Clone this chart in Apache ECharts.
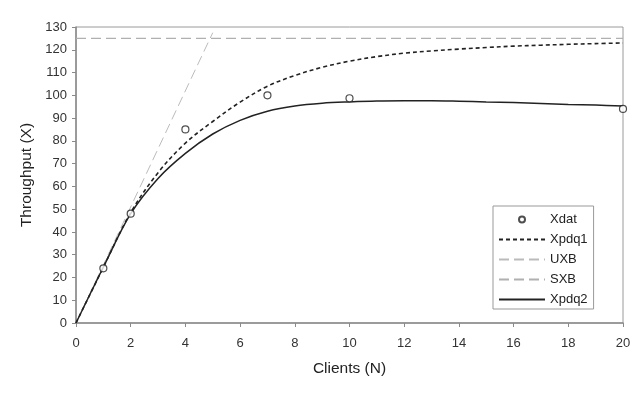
<!DOCTYPE html>
<html>
<head>
<meta charset="utf-8">
<script src="https://cdn.jsdelivr.net/npm/echarts@6/dist/echarts.min.js"></script>
<style>
html,body{margin:0;padding:0;background:#fff;}
#chart{width:640px;height:397px;}
</style>
</head>
<body>
<div id="chart"></div>
<script>
// Measured data
const xdatN = [1, 2, 4, 7, 10, 20];
const xdatX = [24, 48, 85, 100, 98.7, 94];

const clientsN = [0,1,2,3,4,5,6,7,8,9,10,11,12,13,14,15,16,17,18,19,20];
const xpdq1 = [0,24.5,48.5,66,79,88.5,97,104,108.7,112.3,115,117,118.5,119.5,120.3,121,121.6,122,122.4,122.7,123];
const xpdq2 = [0,24.5,48,63.5,74.5,83,89,93,95.3,96.5,97.1,97.5,97.6,97.6,97.4,97.1,96.8,96.4,96,95.7,95.3];

const uxbN = [0, 5];
const uxbX = [0, 127.5];
const sxbN = [0, 20];
const sxbX = [125, 125];

const xTicks = [0,2,4,6,8,10,12,14,16,18,20];
const yTicks = [0,10,20,30,40,50,60,70,80,90,100,110,120,130];

const pairs = (a, b) => a.map((v, i) => [v, b[i]]);
const FONT = 'Liberation Sans';
const hideDot = {opacity: 0};

const chart = echarts.init(document.getElementById('chart'), null, {renderer: 'canvas'});
chart.setOption({
  animation: false,
  backgroundColor: '#fff',
  textStyle: {fontFamily: FONT},
  grid: {left: 76, right: 17, top: 27, bottom: 74, show: true, borderColor: '#9a9a9a', borderWidth: 1, backgroundColor: 'transparent'},
  xAxis: {
    type: 'value', min: xTicks[0], max: xTicks[xTicks.length-1], interval: 2,
    name: 'Clients (N)', nameLocation: 'middle', nameGap: 38,
    nameTextStyle: {fontSize: 15.5, color: '#222', fontFamily: FONT},
    axisLine: {show: true, onZero: false, lineStyle: {color: '#8a8a8a', width: 1.5}},
    axisTick: {show: true, inside: false, length: 4, lineStyle: {color: '#8a8a8a'}},
    axisLabel: {fontSize: 13, color: '#333', margin: 14, fontFamily: FONT},
    splitLine: {show: false}
  },
  yAxis: {
    type: 'value', min: yTicks[0], max: yTicks[yTicks.length-1], interval: 10,
    name: 'Throughput (X)', nameLocation: 'middle', nameGap: 38,
    nameTextStyle: {fontSize: 15.5, color: '#222', fontFamily: FONT},
    axisLine: {show: true, onZero: false, lineStyle: {color: '#8a8a8a', width: 1.5}},
    axisTick: {show: true, inside: false, length: 4, lineStyle: {color: '#8a8a8a'}},
    axisLabel: {fontSize: 13, color: '#333', margin: 9, fontFamily: FONT},
    splitLine: {show: false}
  },
  legend: {
    orient: 'vertical', left: 493, top: 206,
    padding: [7, 6, 3, 5],
    itemWidth: 46, itemHeight: 6, itemGap: 7,
    borderColor: '#999', borderWidth: 1, backgroundColor: '#fff',
    textStyle: {fontSize: 13, color: '#222', fontFamily: FONT},
    data: [
      {name: 'Xdat'},
      {name: 'Xpdq1', itemStyle: hideDot},
      {name: 'UXB', itemStyle: hideDot},
      {name: 'SXB', itemStyle: hideDot},
      {name: 'Xpdq2', itemStyle: hideDot}
    ]
  },
  series: [
    {
      name: 'UXB', type: 'line', data: pairs(uxbN, uxbX), symbol: 'none',
      lineStyle: {color: '#bbbbbb', width: 1, type: [10, 5]}, z: 1
    },
    {
      name: 'SXB', type: 'line', data: pairs(sxbN, sxbX), symbol: 'none',
      lineStyle: {color: '#b0b0b0', width: 1.2, type: [10, 5]}, z: 1
    },
    {
      name: 'Xpdq1', type: 'line', data: pairs(clientsN, xpdq1), symbol: 'none', smooth: 0.35,
      lineStyle: {color: '#222', width: 1.6, type: [4, 3]}, z: 2
    },
    {
      name: 'Xpdq2', type: 'line', data: pairs(clientsN, xpdq2), symbol: 'none', smooth: 0.35,
      lineStyle: {color: '#222', width: 1.5}, z: 3
    },
    {
      name: 'Xdat', type: 'scatter', data: pairs(xdatN, xdatX), symbol: 'circle', symbolSize: 7,
      itemStyle: {color: '#fff', borderColor: '#222', borderWidth: 1.2}, z: 4
    }
  ]
});
</script>
</body>
</html>
